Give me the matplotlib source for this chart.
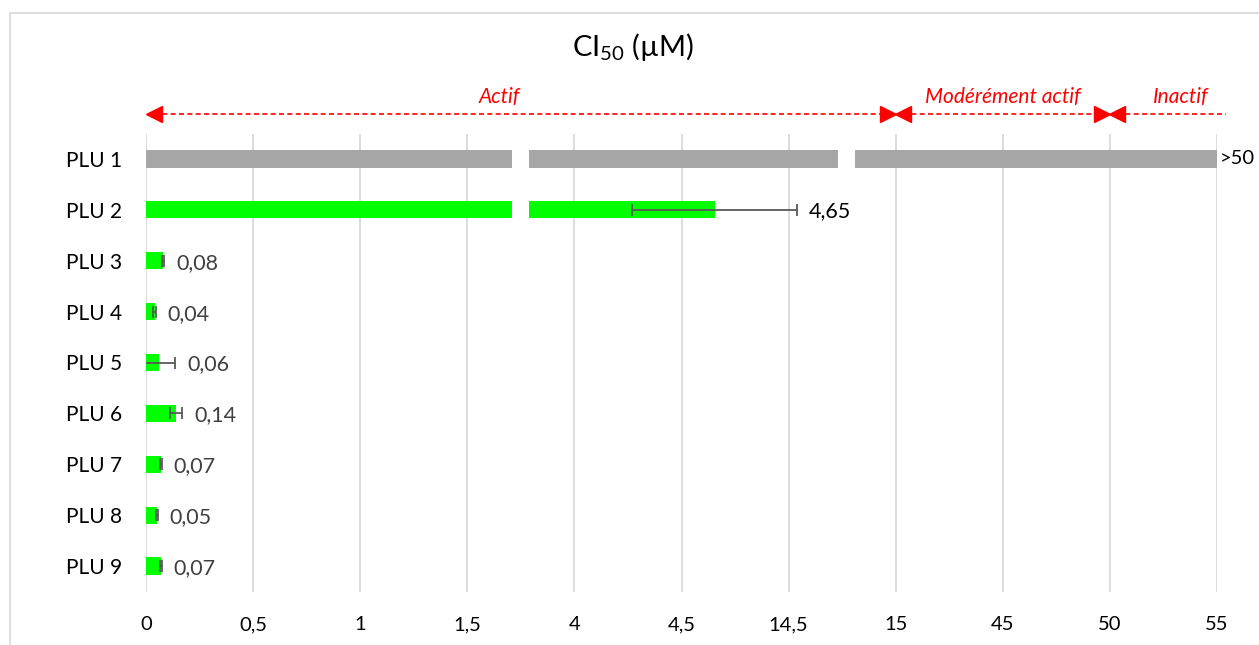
import matplotlib as mpl
mpl.use('Agg')
import matplotlib.pyplot as plt
from matplotlib.patches import Rectangle
import numpy as np

plt.rcParams['font.family'] = ['Lato', 'DejaVu Sans']
plt.rcParams['mathtext.fontset'] = 'custom'
plt.rcParams['mathtext.rm'] = 'Lato'

# données (échelle de l'axe : 0 -> 5, étiquettes remplacées comme dans Excel)
compounds = ['PLU 1', 'PLU 2', 'PLU 3', 'PLU 4', 'PLU 5', 'PLU 6', 'PLU 7', 'PLU 8', 'PLU 9']
bar_len = [5.0, 2.655, 0.08, 0.04, 0.06, 0.14, 0.07, 0.05, 0.07]
bar_err = [0, 0.385, 0.004, 0.006, 0.075, 0.03, 0.004, 0.004, 0.004]
bar_text = ['>50', '4,65', '0,08', '0,04', '0,06', '0,14', '0,07', '0,05', '0,07']
tick_labels = ['0', '0,5', '1', '1,5', '4', '4,5', '14,5', '15', '45', '50', '55']
axis_breaks = [(1.71, 1.79), (3.23, 3.31)]
zones = ['Actif', 'Modérément actif', 'Inactif']
zone_bounds = [(0, 3.5), (3.5, 4.5), (4.5, 5.04)]
zone_text_x = [1.65, 4.0, 4.83]

GREEN = '#00FF00'
GREY = '#A6A6A6'
RED = '#FF0000'

W, H = 1259, 645
fig = plt.figure(figsize=(W / 100, H / 100), dpi=100)
ax = fig.add_axes([146 / W, 1 - 591.5 / H, (1217 - 146) / W, 458 / H])

# cadre du graphique
fig.patches.append(Rectangle((10 / W, -0.1), 1.2, 0.1 + (H - 13) / H,
                             transform=fig.transFigure, fill=False,
                             edgecolor='#D9D9D9', linewidth=1.2))

y = np.arange(len(compounds))
colors = [GREY] + [GREEN] * (len(compounds) - 1)
ax.barh(y, bar_len, height=0.34, color=colors, zorder=2)
ax.errorbar(bar_len[1:], y[1:], xerr=bar_err[1:], fmt='none', ecolor='#595959',
            elinewidth=1.3, capsize=4.5, capthick=1.3, zorder=3, clip_on=True)

# coupures de l'axe
for b0, b1 in axis_breaks:
    for i in range(2):
        if bar_len[i] > b0:
            ax.add_patch(Rectangle((b0, i - 0.25), b1 - b0, 0.5, facecolor='white',
                                   edgecolor='none', zorder=4))

# étiquettes de valeurs
px = 5.0 / (1217 - 146)
for i, (v, e, t) in enumerate(zip(bar_len, bar_err, bar_text)):
    if i == 0:
        ax.text(v + 3 * px, i, t, ha='left', va='center', fontsize=14.5, color='black', clip_on=False)
    elif i == 1:
        ax.text(v + e + 12 * px, i + 0.03, t, ha='left', va='center', fontsize=15.5, color='black')
    else:
        ax.text(v + e + 12 * px, i + 0.04, t, ha='left', va='center', fontsize=15.5, color='#404040')

ax.set_xlim(0, 5.0)
ax.set_ylim(len(compounds) - 0.5, -0.5)
ax.set_xticks(np.arange(0, 5.01, 0.5))
ax.set_xticklabels(tick_labels, fontsize=14.5)
ax.set_yticks(y)
ax.set_yticklabels(compounds, fontsize=15)
ax.tick_params(axis='both', length=0)
ax.tick_params(axis='y', pad=17)
ax.tick_params(axis='x', pad=18)
ax.grid(axis='x', color='#D9D9D9', linewidth=1.3, zorder=0)
ax.set_axisbelow(True)
for s in ax.spines.values():
    s.set_visible(False)

# zones d'activité (flèches rouges en pointillés)
trans = ax.get_xaxis_transform()
ya = 1 + 19.5 / 458
head = 7.5 * px
for k, (name, (x0, x1), tx) in enumerate(zip(zones, zone_bounds, zone_text_x)):
    ax.plot([x0 + head, x1 - (head if k < 2 else 0)], [ya, ya], transform=trans,
            color=RED, linestyle=(0, (3, 2)), linewidth=1.2, clip_on=False)
    ax.plot([x0 + head], [ya], marker='<', markersize=11, color=RED,
            transform=trans, clip_on=False, linestyle='none')
    if k < 2:
        ax.plot([x1 - head], [ya], marker='>', markersize=11, color=RED,
                transform=trans, clip_on=False, linestyle='none')
    ax.text(tx, 1 + 37 / 458, name, transform=trans, ha='center', va='center',
            fontsize=15, style='italic', color=RED)

fig.text(633 / W, 1 - 47 / H, r'CI$_{\mathregular{50}}$ (µM)', ha='center', va='center',
         fontsize=21)

fig.savefig('out.png', dpi=100)
